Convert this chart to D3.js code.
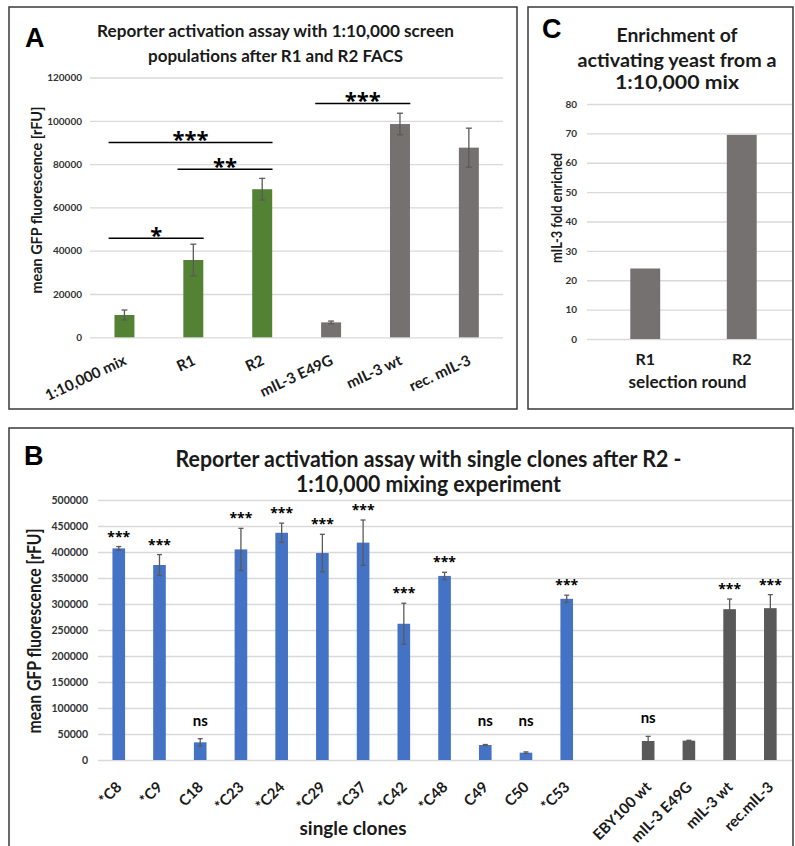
<!DOCTYPE html>
<html><head><meta charset="utf-8">
<script src="https://cdn.jsdelivr.net/npm/d3@7"></script>
<style>
body{margin:0;background:#fff}
svg{display:block}
text{font-family:Lato,"Open Sans",sans-serif;font-weight:bold}
</style>
</head><body>
<svg id="chart" width="795" height="846"></svg>
<script>
// ---------- Panel A data ----------
const aCategories = ["1:10,000 mix", "R1", "R2", "mIL-3 E49G", "mIL-3 wt", "rec. mIL-3"];
const aValues = [10300, 35700, 68400, 6900, 98500, 87600];
const aErrors = [2300, 7300, 5000, 600, 5000, 9000];
const aGroups = ["pool", "pool", "pool", "control", "control", "control"];
const aTicks = [0, 20000, 40000, 60000, 80000, 100000, 120000];
const aSigFrom = ["1:10,000 mix", "1:10,000 mix", "R1", "mIL-3 E49G"];
const aSigTo = ["R1", "R2", "R2", "mIL-3 wt"];
const aSigLevel = [45700, 90000, 77600, 108000];
const aSigLabel = ["*", "***", "**", "***"];

// ---------- Panel C data ----------
const cCategories = ["R1", "R2"];
const cValues = [24, 69.5];
const cTicks = [0, 10, 20, 30, 40, 50, 60, 70, 80];

// ---------- Panel B data ----------
const bCategories = ["*C8", "*C9", "C18", "*C23", "*C24", "*C29", "*C37", "*C42", "*C48", "C49", "C50", "*C53", "", "EBY100 wt", "mIL-3 E49G", "mIL-3 wt", "rec.mIL-3"];
const bValues = [407000, 375000, 34000, 405000, 437000, 398000, 418000, 262000, 354000, 28800, 14100, 310000, null, 36500, 37200, 290000, 292000];
const bErrors = [3500, 20000, 7000, 40500, 18500, 36000, 43500, 39500, 7000, 1000, 1500, 7000, null, 9000, 700, 19500, 26000];
const bSig = ["***", "***", "ns", "***", "***", "***", "***", "***", "***", "ns", "ns", "***", "", "ns", "", "***", "***"];
const bGroups = ["clone", "clone", "clone", "clone", "clone", "clone", "clone", "clone", "clone", "clone", "clone", "clone", "", "control", "control", "control", "control"];
const bTicks = [0, 50000, 100000, 150000, 200000, 250000, 300000, 350000, 400000, 450000, 500000];

const svg = d3.select("#chart");
const GRID = "#d9d9d9", ERR = "#5a5a5a", TXT = "#1a1a1a", TICK = "#333";
const STARFONT = "'Open Sans',Lato,sans-serif";

function panelBox(x, y, w, h) {
  svg.append("rect").attr("x", x).attr("y", y).attr("width", w).attr("height", h)
    .attr("fill", "none").attr("stroke", "#3a3a3a").attr("stroke-width", 1.5);
}
function letter(t, x, y) {
  svg.append("text").attr("x", x).attr("y", y).text(t)
    .style("font-family", "'Liberation Sans',Arial,sans-serif").style("font-size", "27px").attr("fill", "#000");
}
function title(lines, cx, ys, size, lens) {
  lines.forEach((l, i) => {
    svg.append("text").attr("x", cx).attr("y", ys[i]).attr("text-anchor", "middle")
      .style("font-size", size + "px").attr("fill", TXT)
      .attr("textLength", lens[i]).attr("lengthAdjust", "spacingAndGlyphs").text(l);
  });
}
function gridAxis(y, x0, x1, ticks, pad, fs) {
  const g = svg.append("g").attr("transform", `translate(${x0},0)`)
    .call(d3.axisLeft(y).tickValues(ticks).tickSize(-(x1 - x0)).tickPadding(pad).tickFormat(d3.format("d")));
  g.select(".domain").remove();
  g.selectAll(".tick line").attr("stroke", GRID).attr("stroke-width", 1.3);
  g.selectAll(".tick text").style("font-size", fs + "px").style("font-family", "Lato,sans-serif")
    .style("font-weight", "bold").attr("fill", TICK);
  return g;
}
function yTitle(t, x, y, size, len) {
  svg.append("g").attr("transform", `translate(${x},${y})`)
    .append("text").attr("transform", "rotate(-90)").attr("text-anchor", "middle")
    .style("font-size", size + "px").attr("fill", TXT)
    .attr("textLength", len).attr("lengthAdjust", "spacingAndGlyphs").text(t);
}
// slanted category label, right end of its baseline at (x,y)
function slantLabel(t, x, y, angleDeg, size) {
  svg.append("text").attr("x", x).attr("y", y).attr("text-anchor", "end")
    .style("font-size", size + "px").attr("fill", TXT)
    .style("transform-origin", `${x}px ${y}px`)
    .style("transform", `rotate(${angleDeg}deg)`)
    .text(t);
}
function errorBar(g, cx, yTop, yBot, cap) {
  g.append("line").attr("x1", cx).attr("x2", cx).attr("y1", yTop).attr("y2", yBot).attr("stroke", ERR).attr("stroke-width", 1.3);
  [yTop, yBot].forEach(yy => g.append("line").attr("x1", cx - cap / 2).attr("x2", cx + cap / 2)
    .attr("y1", yy).attr("y2", yy).attr("stroke", ERR).attr("stroke-width", 1.3));
}

// ================= Panel A =================
panelBox(9, 7, 508, 402);
letter("A", 25, 47);
title(["Reporter activation assay with 1:10,000 screen", "populations after R1 and R2 FACS"], 275.5, [37, 62], 17.5, [357, 255]);

const aY = d3.scaleLinear().domain([0, 120000]).range([337.3, 77.5]);
const aX = d3.scaleBand().domain(aCategories).range([90, 503.3]);
const aColor = d3.scaleOrdinal().domain(["pool", "control"]).range(["#548235", "#767171"]);
gridAxis(aY, 90, 503, aTicks, 8, 10);
yTitle("mean GFP fluorescence [rFU]", 42, 200, 16, 187);

const aG = svg.append("g");
const aBW = aX.bandwidth() * 0.29;
aCategories.forEach((c, i) => {
  const cx = aX(c) + aX.bandwidth() / 2;
  aG.append("rect").attr("x", cx - aBW / 2).attr("width", aBW)
    .attr("y", aY(aValues[i])).attr("height", aY(0) - aY(aValues[i])).attr("fill", aColor(aGroups[i]));
  errorBar(aG, cx, aY(aValues[i] + aErrors[i]), aY(aValues[i] - aErrors[i]), 6);
  slantLabel(c, cx + 3, 364, -25, 15);
});
// significance brackets
const step = aX.step();
aSigLabel.forEach((lab, i) => {
  const x1 = aX(aSigFrom[i]) + aX.bandwidth() / 2 - step * 0.23;
  const x2 = aX(aSigTo[i]) + aX.bandwidth() / 2 + step * 0.15;
  const yy = aY(aSigLevel[i]);
  aG.append("line").attr("x1", x1).attr("x2", x2).attr("y1", yy).attr("y2", yy).attr("stroke", "#000").attr("stroke-width", 1.5);
  aG.append("text").attr("x", (x1 + x2) / 2).attr("y", yy + 5).attr("text-anchor", "middle")
    .style("font-family", STARFONT).style("font-size", "22px").attr("fill", "#000").text(lab);
});

// ================= Panel C =================
panelBox(528, 7, 265, 402);
letter("C", 542, 38);
title(["Enrichment of", "activating yeast from a", "1:10,000 mix"], 677, [42, 66.5, 88.5], 18.5, [121, 199, 124]);
const cY = d3.scaleLinear().domain([0, 80]).range([339, 104]);
const cX = d3.scaleBand().domain(cCategories).range([597, 790]);
gridAxis(cY, 587, 792, cTicks, 10, 10);
yTitle("mIL-3 fold enriched", 562, 208, 16, 110);
const cBW = cX.bandwidth() * 0.31;
cCategories.forEach((c, i) => {
  const cx = cX(c) + cX.bandwidth() / 2;
  svg.append("rect").attr("x", cx - cBW / 2).attr("width", cBW)
    .attr("y", cY(cValues[i])).attr("height", cY(0) - cY(cValues[i])).attr("fill", "#767171");
  svg.append("text").attr("x", cx).attr("y", 365).attr("text-anchor", "middle")
    .style("font-size", "16px").attr("fill", TXT).text(c);
});
svg.append("text").attr("x", 687.5).attr("y", 388).attr("text-anchor", "middle")
  .style("font-size", "16.5px").attr("fill", TXT).attr("textLength", 118).attr("lengthAdjust", "spacingAndGlyphs").text("selection round");

// ================= Panel B =================
panelBox(9, 428, 784, 440);
letter("B", 24, 465);
title(["Reporter activation assay with single clones after R2 -", "1:10,000 mixing experiment"], 428.5, [467, 492], 22, [506, 265]);
const bY = d3.scaleLinear().domain([0, 500000]).range([760, 500]);
const bX = d3.scaleBand().domain(bCategories.map((c, i) => c || "gap" + i)).range([98.4, 790.7]);
const bColor = d3.scaleOrdinal().domain(["clone", "control"]).range(["#4472C4", "#595959"]);
gridAxis(bY, 98, 792, bTicks, 10, 10.5);
yTitle("mean GFP fluorescence [rFU]", 41, 631, 18, 205);
const bG = svg.append("g");
const bBW = bX.bandwidth() * 0.31;
bCategories.forEach((c, i) => {
  if (bValues[i] == null) return;
  const cx = bX(c) + bX.bandwidth() / 2;
  bG.append("rect").attr("x", cx - bBW / 2).attr("width", bBW)
    .attr("y", bY(bValues[i])).attr("height", bY(0) - bY(bValues[i])).attr("fill", bColor(bGroups[i]));
  const top = bValues[i] + bErrors[i];
  errorBar(bG, cx, bY(top), bY(bValues[i] - bErrors[i]), 5);
  if (bSig[i] === "***") {
    bG.append("text").attr("x", cx).attr("y", bY(top) - 5).attr("text-anchor", "middle")
      .style("font-family", STARFONT).style("font-size", "14px").attr("fill", "#000").text(bSig[i]);
  } else if (bSig[i] === "ns") {
    bG.append("text").attr("x", cx).attr("y", bY(Math.max(top, 40000)) - 13).attr("text-anchor", "middle")
      .style("font-size", "15px").attr("fill", "#000").text(bSig[i]);
  }
  slantLabel(c, cx + 4, 788, -45, 15);
});
svg.append("text").attr("x", 353).attr("y", 835).attr("text-anchor", "middle")
  .style("font-size", "18px").attr("fill", TXT).attr("textLength", 107).attr("lengthAdjust", "spacingAndGlyphs").text("single clones");
</script>
</body></html>
